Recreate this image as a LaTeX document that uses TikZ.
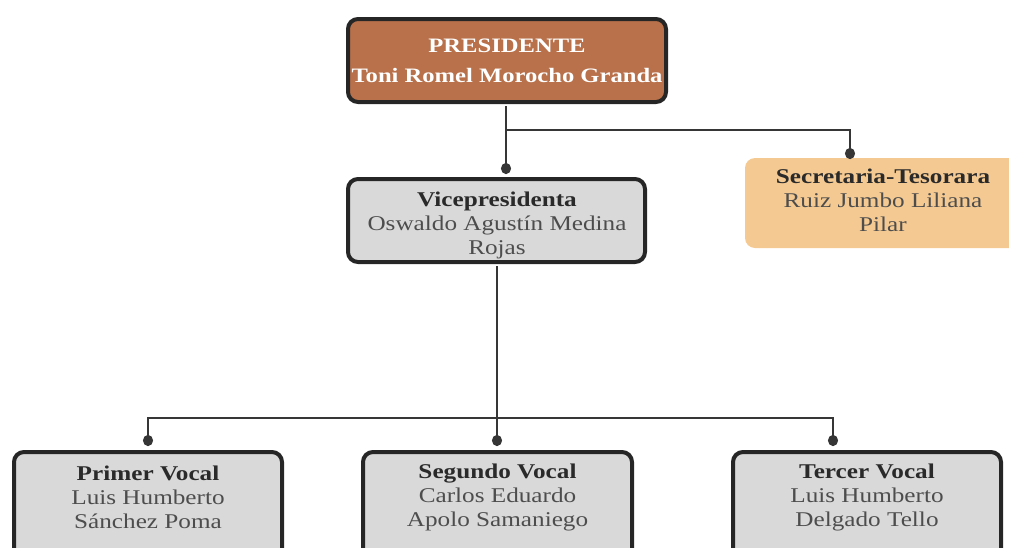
\documentclass[tikz,border=0pt]{standalone}
\usepackage{fontspec}
\setmainfont{Liberation Serif}[FakeStretch=1.2]
\usetikzlibrary{arrows.meta,calc}
\definecolor{presfill}{HTML}{B8714A}
\definecolor{secfill}{HTML}{F5CA92}
\definecolor{grayfill}{HTML}{D9D9D9}
\definecolor{bordercol}{HTML}{262626}
\definecolor{titlecol}{HTML}{2A2A2A}
\definecolor{namecol}{HTML}{4D4D4D}
\definecolor{linecol}{HTML}{363636}
\begin{document}
\begin{tikzpicture}[x=1pt,y=-1pt,
  box/.style={draw=bordercol, line width=4pt, rounded corners=10pt, inner sep=0pt},
  graybox/.style={box, fill=grayfill},
  txt/.style={align=center, font=\fontsize{21}{24}\selectfont, text=namecol},
  conn/.style={draw=linecol, line width=2.2pt},
  dotend/.style={-{Circle[length=11pt,width=10pt]}}
]
\useasboundingbox (0,0) rectangle (1009,547);
\clip (0,0) rectangle (1009,547);

% President
\node[box, fill=presfill, minimum width=318pt, minimum height=83pt, align=center,
      text=white, font=\bfseries\fontsize{20.5}{30}\selectfont] (pres) at (507,60.5)
  {PRESIDENTE\\Toni Romel Morocho Granda};

% Vicepresidenta
\node[graybox, minimum width=297pt, minimum height=83pt] (vp) at (496.5,220.5) {};
\node[txt] (vpt) at (497,225) {{\bfseries\color{titlecol}Vicepresidenta}\\Oswaldo Agustín Medina\\Rojas};

% Secretaria
\node[fill=secfill, rounded corners=10pt, minimum width=276pt, minimum height=90pt] (sec) at (883,203) {};
\node[txt] (sect) at (883,200) {{\bfseries\color{titlecol}Secretaria-Tesorara}\\Ruiz Jumbo Liliana\\Pilar};

% Vocal boxes
\node[graybox, minimum width=268pt, minimum height=130pt, anchor=north] (v1) at (148,450) {};
\node[graybox, minimum width=269pt, minimum height=130pt, anchor=north] (v2) at (497.5,450) {};
\node[graybox, minimum width=268pt, minimum height=130pt, anchor=north] (v3) at (867,450) {};
\node[txt] (t1) at (148,497) {{\bfseries\color{titlecol}Primer Vocal}\\Luis Humberto\\Sánchez Poma};
\node[txt] (t2) at (497.5,497) {{\bfseries\color{titlecol}Segundo Vocal}\\Carlos Eduardo\\Apolo Samaniego};
\node[txt] (t3) at (867,497) {{\bfseries\color{titlecol}Tercer Vocal}\\Luis Humberto\\Delgado Tello};

% Connector coordinates
\coordinate (ptop) at (506,106);
\coordinate (j1) at (506,130);
\coordinate (vpend) at (506,174);
\coordinate (secend) at (850,159);
\coordinate (vbot) at (497,266);
\coordinate (j2) at (497,418);
\coordinate (e1) at (148,446);
\coordinate (e2) at (497,446);
\coordinate (e3) at (833,446);

\draw[conn, dotend] (ptop) -- (vpend);
\draw[conn, dotend] (j1) -| (secend);
\draw[conn, dotend] (vbot) -- (e2);
\draw[conn, dotend] (j2) -| (e1);
\draw[conn, dotend] (j2) -| (e3);
\end{tikzpicture}
\end{document}
